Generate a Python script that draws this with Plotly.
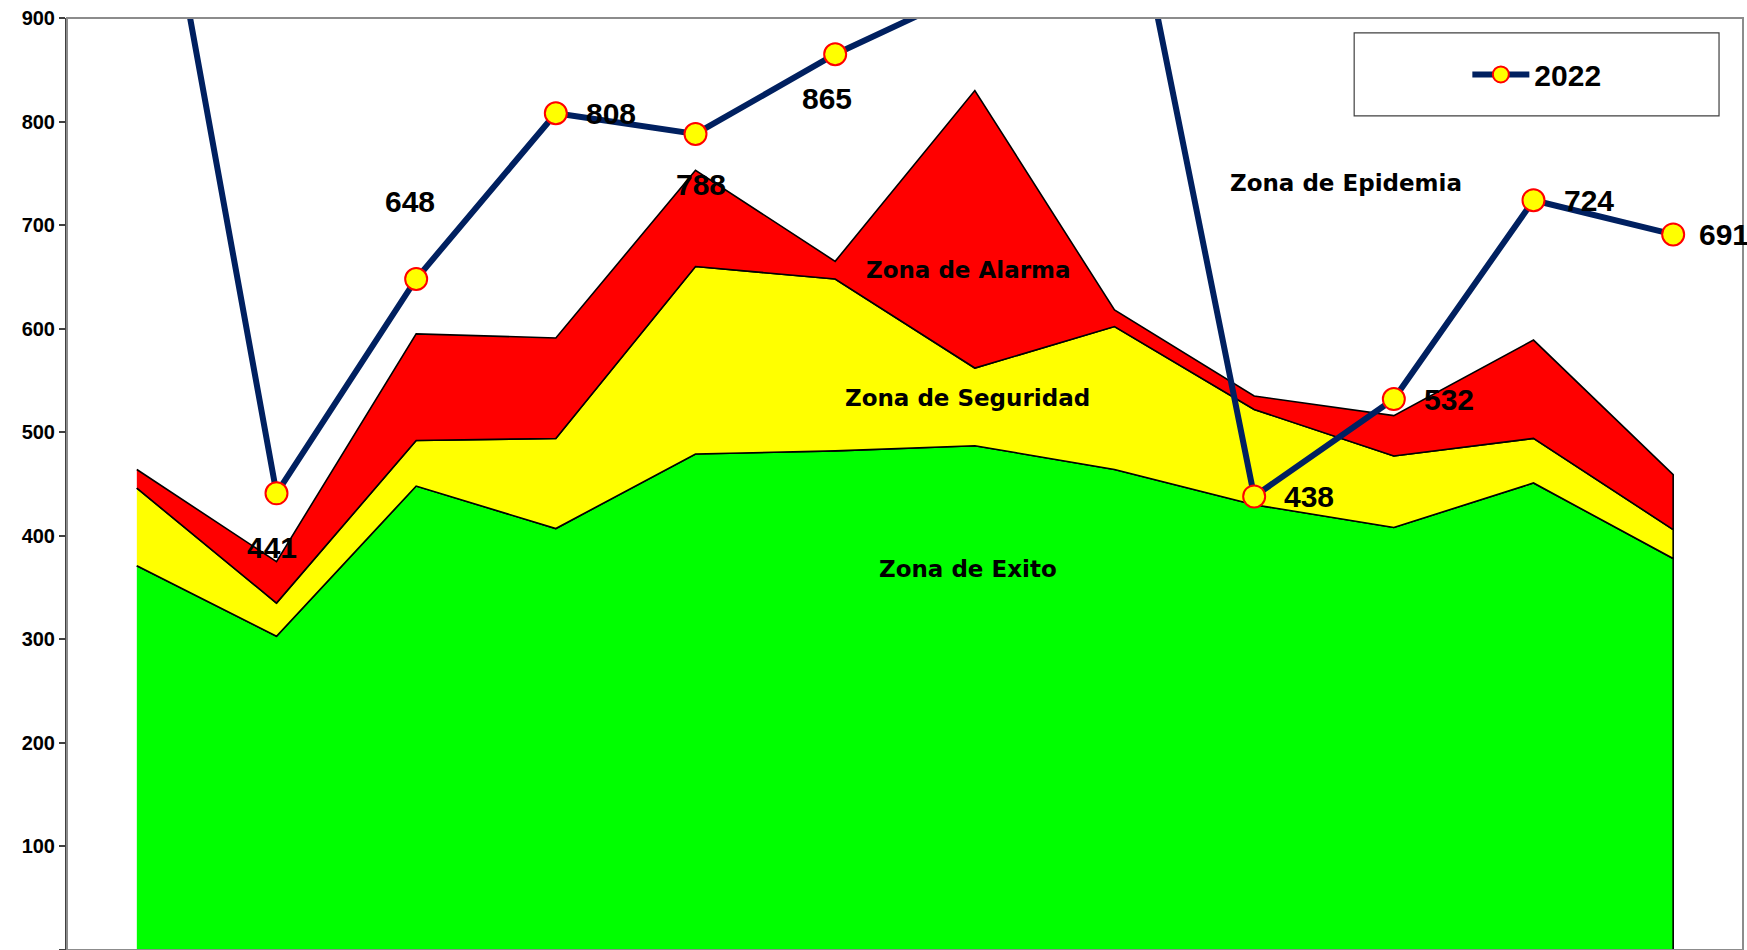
import plotly.graph_objects as go

# ---------------- data ----------------
MONTHS = ["Ene", "Feb", "Mar", "Abr", "May", "Jun", "Jul", "Ago", "Sep", "Oct", "Nov", "Dic"]
# upper limits of each zone (cumulative levels)
EXITO = [371, 303, 448, 407, 479, 482, 487, 464, 430, 408, 451, 378]
SEGURIDAD = [446, 335, 492, 494, 660, 648, 562, 602, 522, 477, 494, 406]
ALARMA = [464, 375, 595, 591, 753, 665, 830, 618, 535, 516, 589, 459]
CASOS_2022 = [1183, 441, 648, 808, 788, 865, 928, 1108, 438, 532, 724, 691]
Y_TICKS = [0, 100, 200, 300, 400, 500, 600, 700, 800, 900]
ZONE_NAMES = ["Zona de Epidemia", "Zona de Alarma", "Zona de Seguridad", "Zona de Exito"]

# ---------------- styling / placement ----------------
Y_MAX = 900
# (xshift, yshift, xanchor) for each data label; None -> not shown
LABEL_PLACE = [None, (-5, -54, "center"), (-6, 77, "center"), (28, 0, "left"),
               (5, -51, "center"), (-8, -44, "center"), None, None,
               (28, 0, "left"), (28, 0, "left"), (28, 0, "left"), (24, 0, "left")]
ZONE_PLACE = [(8.66, 741), (5.95, 657), (5.95, 533), (5.95, 368)]

BAND_COLORS = ["#00FF00", "#FFFF00", "#FF0000"]

fig = go.Figure()

zero = [0] * len(MONTHS)
bands = [(EXITO, zero), (SEGURIDAD, EXITO), (ALARMA, SEGURIDAD)]
for (upper, lower), col in zip(bands, BAND_COLORS):
    fig.add_trace(go.Scatter(
        x=MONTHS + MONTHS[::-1],
        y=list(upper) + list(lower)[::-1],
        mode="lines",
        fill="toself",
        fillcolor=col,
        line=dict(color="black", width=1.6),
        showlegend=False,
        hoverinfo="skip",
    ))

fig.add_trace(go.Scatter(
    x=MONTHS, y=CASOS_2022, name="2022",
    mode="lines+markers",
    line=dict(color="#002060", width=6),
    marker=dict(size=22, color="#FFFF00", line=dict(color="#FF0000", width=2)),
    showlegend=True,
))

annotations = []
for m, v, place in zip(MONTHS, CASOS_2022, LABEL_PLACE):
    if place is None or v > Y_MAX:
        continue
    dx, dy, xa = place
    annotations.append(dict(
        x=m, y=v, xref="x", yref="y", text=str(v), showarrow=False,
        xanchor=xa, yanchor="middle", xshift=dx, yshift=dy,
        font=dict(family="Liberation Sans, Arial", size=30, color="black", weight="bold"),
    ))

for name, (zx, zy) in zip(ZONE_NAMES, ZONE_PLACE):
    annotations.append(dict(
        x=zx, y=zy, xref="x", yref="y", text=name, showarrow=False,
        xanchor="center", yanchor="middle",
        font=dict(family="DejaVu Sans", size=23, color="black", weight="bold"),
    ))

fig.update_layout(
    width=1747, height=950,
    margin=dict(l=67, r=4, t=18, b=0),
    paper_bgcolor="white", plot_bgcolor="white",
    annotations=annotations,
    showlegend=True,
    legend=dict(
        x=0.877, y=0.9394, xanchor="center", yanchor="middle",
        bgcolor="rgba(0,0,0,0)", borderwidth=0,
        font=dict(family="Liberation Sans, Arial", size=30, color="black", weight="bold"),
        itemwidth=57,
    ),
    shapes=[
        dict(type="rect", xref="paper", yref="paper", x0=0, x1=1, y0=0, y1=1,
             line=dict(color="#8c8c8c", width=2), fillcolor="rgba(0,0,0,0)", layer="above"),
        dict(type="rect", xref="paper", yref="paper", x0=0.768, x1=0.9857, y0=0.895, y1=0.984,
             line=dict(color="#404040", width=1.2), fillcolor="white", layer="above"),
    ],
    xaxis=dict(
        type="category", range=[-0.5, len(MONTHS) - 0.5],
        showticklabels=False, ticks="", showgrid=False, zeroline=False, showline=False,
    ),
    yaxis=dict(
        range=[0, Y_MAX], tickvals=Y_TICKS, ticktext=[str(t) for t in Y_TICKS],
        showgrid=False, zeroline=False,
        showline=True, linecolor="#404040", linewidth=2,
        ticks="outside", ticklen=6, tickcolor="#404040", tickwidth=1.5,
        tickfont=dict(family="Liberation Sans, Arial", size=20, color="black", weight="bold"),
    ),
)

fig.write_html(
    "out.html",
    config={"displayModeBar": False},
    post_script="document.body.style.margin='0';document.body.style.overflow='hidden';",
)
